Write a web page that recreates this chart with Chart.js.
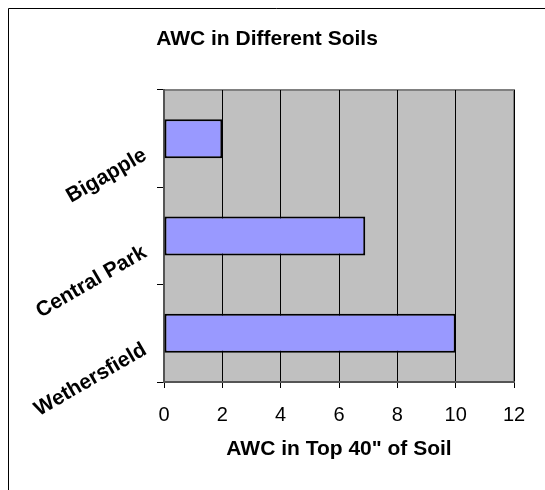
<!DOCTYPE html>
<html>
<head>
<meta charset="utf-8">
<title>AWC in Different Soils</title>
<script src="https://cdn.jsdelivr.net/npm/chart.js@4/dist/chart.umd.min.js"></script>
<style>
  html, body { margin: 0; padding: 0; background: #fff; }
  #wrap { width: 545px; height: 490px; }
</style>
</head>
<body>
<div id="wrap"><canvas id="awc" width="545" height="490"></canvas></div>
<script>
// Soil names and available water capacity (inches) in the top 40" of soil
const soils = ['Bigapple', 'Central Park', 'Wethersfield'];
const awcValues = [2, 6.9, 10];
const chartTitle = 'AWC in Different Soils';
const xAxisTitle = 'AWC in Top 40" of Soil';
const xMin = 0, xMax = 12, xStep = 2;

const FONT = "'Liberation Sans', Arial, Helvetica, sans-serif";

// Plot background, outer frame, titles and slanted soil labels
const decor = {
  id: 'decor',
  beforeDraw(chart) {
    const { ctx, width, height, chartArea: a } = chart;
    ctx.save();
    ctx.fillStyle = '#ffffff';
    ctx.fillRect(0, 0, width, height);
    // outer frame (left and top edges fall inside the canvas)
    ctx.strokeStyle = '#000000';
    ctx.lineWidth = 1;
    ctx.beginPath();
    ctx.moveTo(8.5, height);
    ctx.lineTo(8.5, 8.5);
    ctx.lineTo(width, 8.5);
    ctx.stroke();
    // grey plot area
    ctx.fillStyle = '#c0c0c0';
    ctx.fillRect(a.left, a.top, a.right - a.left, a.bottom - a.top);
    ctx.strokeStyle = '#808080';
    ctx.lineWidth = 2;
    ctx.strokeRect(a.left, a.top, a.right - a.left, a.bottom - a.top);
    ctx.restore();
  },
  afterDraw(chart) {
    const { ctx, chartArea: a } = chart;
    const yScale = chart.scales.y;
    ctx.save();
    ctx.fillStyle = '#000000';
    ctx.font = 'bold 21px ' + FONT;
    ctx.textAlign = 'center';
    ctx.textBaseline = 'alphabetic';
    ctx.fillText(chartTitle, 267, 45);
    ctx.fillText(xAxisTitle, (a.left + a.right) / 2, 455);
    // category labels, slanted 30 degrees
    soils.forEach((name, i) => {
      const y = yScale.getPixelForValue(i);
      ctx.save();
      ctx.translate(145, y + 15);
      ctx.rotate(-Math.PI / 6);
      ctx.textAlign = 'right';
      ctx.textBaseline = 'middle';
      ctx.fillText(name, 0, 0);
      ctx.restore();
    });
    ctx.restore();
  }
};

new Chart(document.getElementById('awc'), {
  type: 'bar',
  data: {
    labels: soils,
    datasets: [{
      data: awcValues,
      backgroundColor: '#9999ff',
      borderColor: '#000000',
      borderWidth: 2,
      borderSkipped: false,
      categoryPercentage: 1,
      barPercentage: 0.4
    }]
  },
  options: {
    indexAxis: 'y',
    responsive: false,
    animation: false,
    events: [],
    layout: { padding: { left: 0, top: 90, right: 31, bottom: 0 } },
    plugins: {
      legend: { display: false },
      title: { display: false },
      tooltip: { enabled: false }
    },
    scales: {
      x: {
        min: xMin,
        max: xMax,
        ticks: {
          stepSize: xStep,
          color: '#000000',
          padding: 15,
          font: { family: FONT, size: 20 }
        },
        grid: {
          color: '#000000',
          lineWidth: 1,
          drawTicks: true,
          tickLength: 6,
          tickColor: '#000000'
        },
        border: { display: true, color: '#555555', width: 2 },
        afterFit(scale) { scale.height = 108; }
      },
      y: {
        ticks: { display: false },
        grid: {
          offset: true,
          drawOnChartArea: false,
          drawTicks: true,
          tickLength: 7,
          tickColor: '#000000'
        },
        border: { display: true, color: '#555555', width: 2 },
        afterFit(scale) { scale.width = 164; }
      }
    }
  },
  plugins: [decor]
});
</script>
</body>
</html>
